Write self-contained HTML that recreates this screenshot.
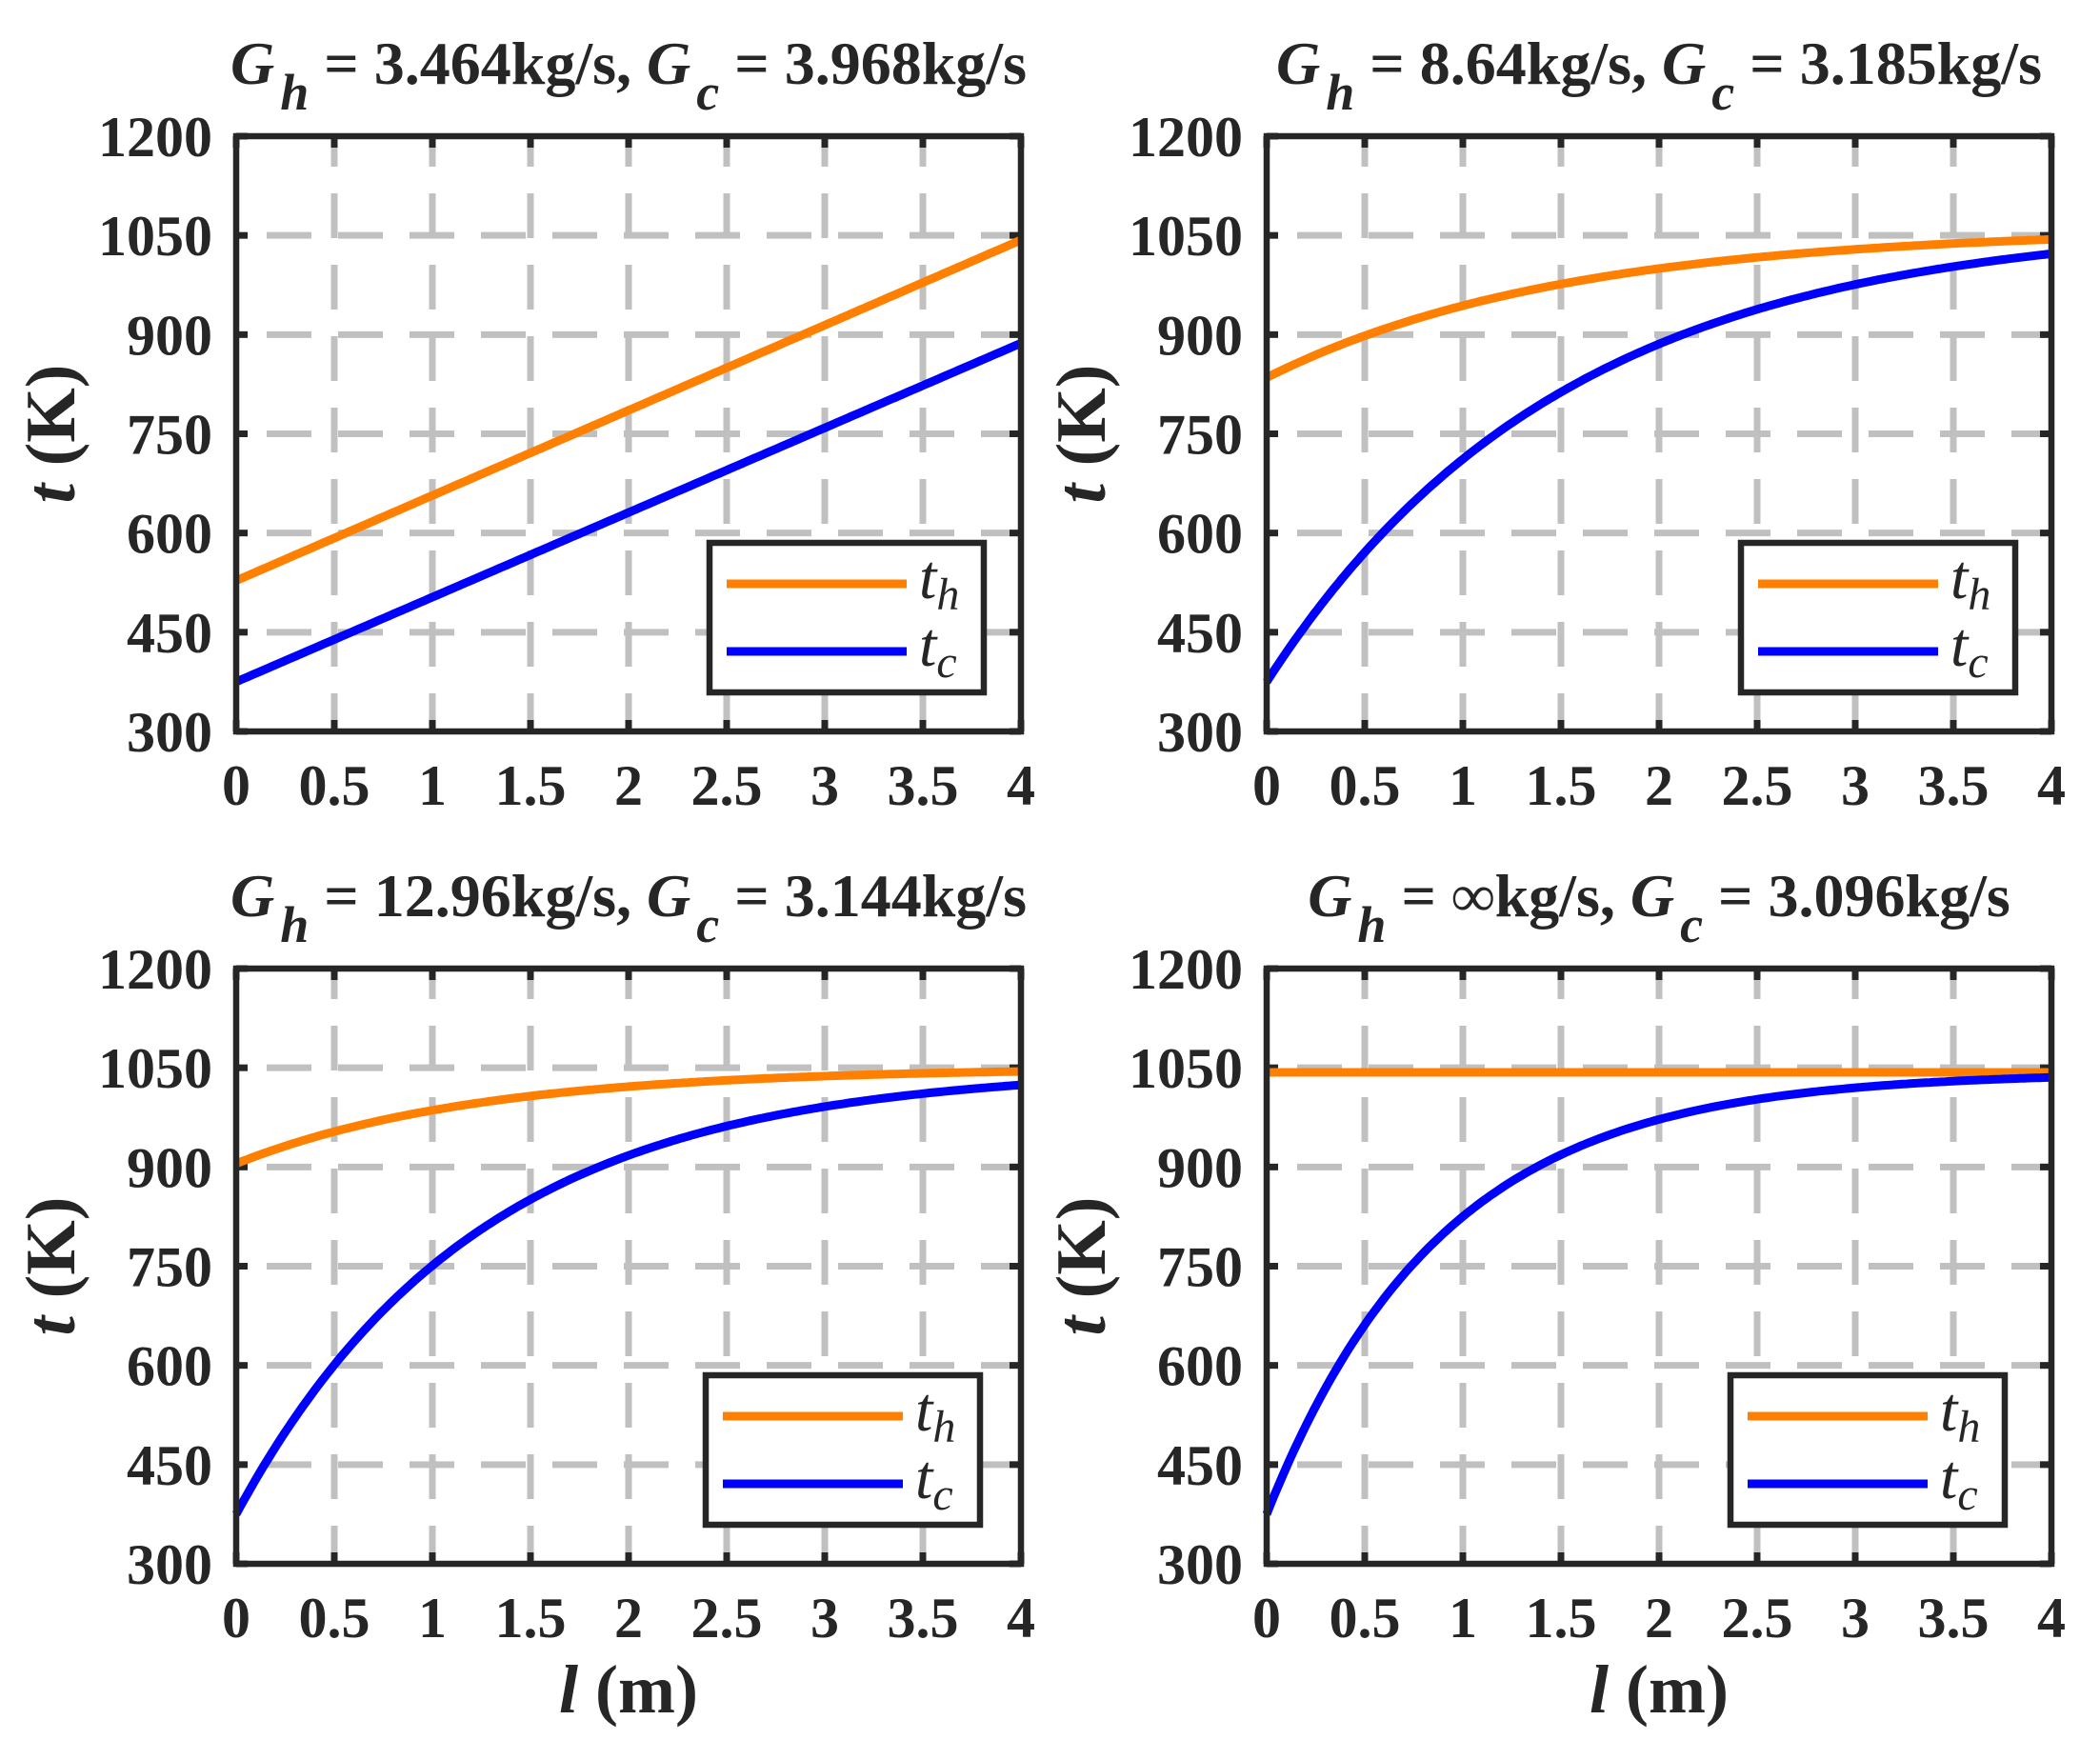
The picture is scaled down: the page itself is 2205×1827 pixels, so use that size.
<!DOCTYPE html>
<html><head><meta charset="utf-8"><style>
html,body{margin:0;padding:0;background:#fff;}
svg{display:block;}
text{font-family:"Liberation Serif","Times New Roman",serif;fill:#262626;}
</style></head><body>
<svg id="s" width="2205" height="1827" viewBox="0 0 2205 1827" xmlns="http://www.w3.org/2000/svg"></svg>
<script>
const s=document.getElementById('s');
let out='';
const W=824,H=625;
const plots=[
 {x0:248,y0:143,leg:497,title:['3.464','3.968'],th:x=>528+(1043-528)*x/4,tc:x=>375+(887-375)*x/4},
 {x0:1330,y0:143,leg:498,title:['8.64','3.185'],th:x=>1060-225*Math.exp(-0.66*x),tc:x=>1072-697*Math.exp(-0.66*x)},
 {x0:248,y0:1017,leg:493,title:['12.96','3.144'],th:x=>1050-145*Math.exp(-0.814*x),tc:x=>1050-675*Math.exp(-0.814*x)},
 {x0:1330,y0:1017,leg:487,title:['∞','3.096'],th:x=>1043,tc:x=>1043-668*Math.exp(-1.12*x)}
];
plots.forEach((p,i)=>{
 const X=v=>p.x0+v*W/4, Y=v=>p.y0+H-(v-300)*H/900;
 for(let k=1;k<8;k++){const gx=X(k*0.5);
  out+=`<line x1="${gx}" y1="${p.y0}" x2="${gx}" y2="${p.y0+H}" stroke="#c0c0c0" stroke-width="7" stroke-dasharray="47 28" stroke-dashoffset="15"/>`;}
 for(let k=1;k<6;k++){const gy=Y(300+k*150);
  out+=`<line x1="${p.x0}" y1="${gy}" x2="${p.x0+W}" y2="${gy}" stroke="#c0c0c0" stroke-width="7" stroke-dasharray="47 28" stroke-dashoffset="43"/>`;}
 for(let k=0;k<=8;k++){const gx=X(k*0.5);
  out+=`<line x1="${gx}" y1="${p.y0+H}" x2="${gx}" y2="${p.y0+H-12}" stroke="#262626" stroke-width="7"/>`;
  out+=`<line x1="${gx}" y1="${p.y0}" x2="${gx}" y2="${p.y0+12}" stroke="#262626" stroke-width="7"/>`;
  out+=`<text x="${gx}" y="${p.y0+H+77}" font-size="60" font-weight="bold" text-anchor="middle">${k*0.5}</text>`;}
 for(let k=0;k<=6;k++){const v=300+k*150,gy=Y(v);
  out+=`<line x1="${p.x0}" y1="${gy}" x2="${p.x0+12}" y2="${gy}" stroke="#262626" stroke-width="7"/>`;
  out+=`<line x1="${p.x0+W}" y1="${gy}" x2="${p.x0+W-12}" y2="${gy}" stroke="#262626" stroke-width="7"/>`;
  out+=`<text x="${p.x0-25}" y="${gy+21}" font-size="60" font-weight="bold" text-anchor="end">${v}</text>`;}
 const path=f=>{let d='';for(let j=0;j<=200;j++){const x=4*j/200;d+=(j?'L':'M')+X(x).toFixed(1)+' '+Y(f(x)).toFixed(1);}return d;};
 out+=`<path d="${path(p.th)}" fill="none" stroke="#ff8000" stroke-width="9"/>`;
 out+=`<path d="${path(p.tc)}" fill="none" stroke="#0000ff" stroke-width="9"/>`;
 out+=`<rect x="${p.x0}" y="${p.y0}" width="${W}" height="${H}" fill="none" stroke="#262626" stroke-width="6.5"/>`;
 const lx=p.x0+p.leg, ly=p.y0+427;
 out+=`<rect x="${lx}" y="${ly}" width="288" height="157" fill="#fff" stroke="#262626" stroke-width="6.5"/>`;
 out+=`<line x1="${lx+18}" y1="${ly+43}" x2="${lx+207}" y2="${ly+43}" stroke="#ff8000" stroke-width="9"/>`;
 out+=`<line x1="${lx+18}" y1="${ly+114}" x2="${lx+207}" y2="${ly+114}" stroke="#0000ff" stroke-width="9"/>`;
 out+=`<text x="${lx+220}" y="${ly+58}" font-size="66" font-style="italic" fill="#000">t<tspan font-size="48" dy="12">h</tspan></text>`;
 out+=`<text x="${lx+220}" y="${ly+129}" font-size="66" font-style="italic" fill="#000">t<tspan font-size="48" dy="12">c</tspan></text>`;
 const cx=p.x0+W/2, ty=p.y0-55;
 out+=`<text x="${cx}" y="${ty}" font-size="64" font-weight="bold" text-anchor="middle" fill="#000"><tspan font-style="italic">G</tspan><tspan font-style="italic" font-size="54" dx="6" dy="27">h</tspan><tspan dy="-27"> = ${p.title[0]}kg/s, </tspan><tspan font-style="italic">G</tspan><tspan font-style="italic" font-size="54" dx="6" dy="27">c</tspan><tspan dy="-27"> = ${p.title[1]}kg/s</tspan></text>`;
 const yx=p.x0-170, yc=p.y0+H/2;
 out+=`<text transform="translate(${yx},${yc}) rotate(-90)" font-size="74" font-weight="bold" text-anchor="middle"><tspan font-style="italic">t</tspan> (K)</text>`;
 if(i>=2){out+=`<text x="${cx}" y="1798" font-size="72" font-weight="bold" text-anchor="middle"><tspan font-style="italic">l</tspan> (m)</text>`;}
});
s.innerHTML=out;
</script>
</body></html>
